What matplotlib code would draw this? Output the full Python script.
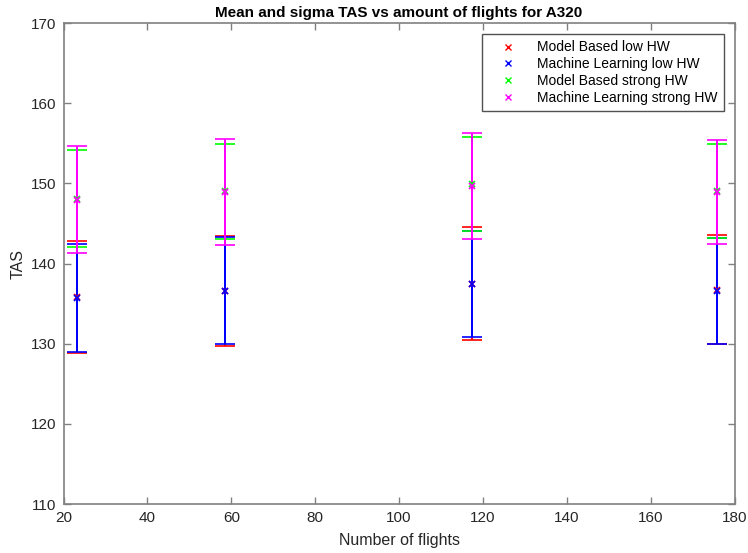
import matplotlib
matplotlib.use("Agg")
import matplotlib.pyplot as plt
from matplotlib.lines import Line2D

flights = [23.2, 58.5, 117.3, 175.9]

mb_low_mean = [135.8, 136.6, 137.5, 136.7]
mb_low_sigma = [7.0, 6.85, 7.0, 6.8]
ml_low_mean = [135.7, 136.6, 137.4, 136.6]
ml_low_sigma = [6.75, 6.7, 6.6, 6.6]
mb_strong_mean = [148.05, 149.0, 149.9, 149.05]
mb_strong_sigma = [6.05, 5.9, 5.9, 5.85]
ml_strong_mean = [147.95, 148.9, 149.7, 148.9]
ml_strong_sigma = [6.65, 6.6, 6.6, 6.5]

series = [
    ("Model Based low HW", mb_low_mean, mb_low_sigma, "#ff0000"),
    ("Machine Learning low HW", ml_low_mean, ml_low_sigma, "#0000ff"),
    ("Model Based strong HW", mb_strong_mean, mb_strong_sigma, "#00ff00"),
    ("Machine Learning strong HW", ml_strong_mean, ml_strong_sigma, "#ff00ff"),
]

plt.rcParams['font.family'] = ['Liberation Sans', 'DejaVu Sans']

fig = plt.figure(figsize=(7.48, 5.53), dpi=100)
ax = fig.add_axes([0.0849, 0.0886, 0.8973, 0.8698])

handles = []
for label, m, s, c in series:
    cont = ax.errorbar(flights, m, yerr=s, fmt='x', color=c, ecolor=c,
                       elinewidth=1.2, capsize=7, capthick=1.2, markersize=5,
                       markeredgewidth=1.2)
    for bc in cont[2]:
        bc.set_antialiased(False)
    for cap in cont[1]:
        cap.set_antialiased(False)
    handles.append(Line2D([], [], linestyle='none', marker='x', color=c,
                          markersize=5, markeredgewidth=1.0, label=label))

ax.set_xlim(20, 180)
ax.set_ylim(110, 170)
ax.set_xticks(range(20, 181, 20))
ax.set_yticks(range(110, 171, 10))

axcol = '#262626'
for sp in ax.spines.values():
    sp.set_color('#808080')
    sp.set_linewidth(1.2)
ax.tick_params(direction='in', top=True, right=True, length=5, width=1,
               color='#808080', labelcolor=axcol, labelsize=11, pad=5)

ax.set_title("Mean and sigma TAS vs amount of flights for A320",
             fontsize=11, fontweight='bold', color='black', pad=4)
ax.set_xlabel("Number of flights", fontsize=11.5, color=axcol, labelpad=6)
ax.set_ylabel("TAS", fontsize=11.5, color=axcol)

leg = ax.legend(handles=handles, loc='upper right', fontsize=10, frameon=True,
                fancybox=False, edgecolor='#262626', borderaxespad=0.8,
                handlelength=2.8, handletextpad=0.7, labelspacing=0.2,
                borderpad=0.45)
leg.get_frame().set_linewidth(1.0)

fig.savefig("out.png", dpi=100)
